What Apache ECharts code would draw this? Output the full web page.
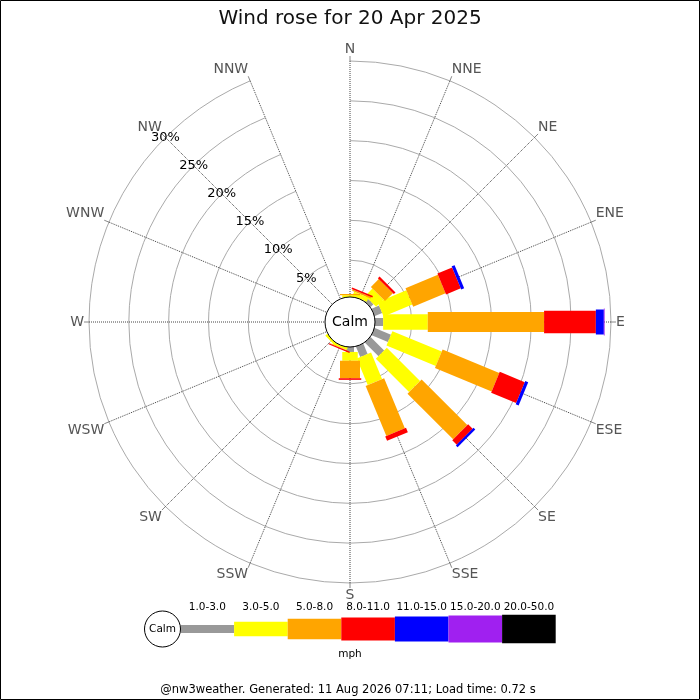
<!DOCTYPE html>
<html><head><meta charset="utf-8">
<script src="https://cdn.jsdelivr.net/npm/echarts@6/dist/echarts.min.js"></script>
<style>html,body{margin:0;padding:0;background:#fff}#c{width:700px;height:700px}</style>
</head><body><div id="c"></div>
<script>
// ---------- data ----------
const directions = ['N','NNE','NE','ENE','E','ESE','SE','SSE','S','SSW','SW','WSW','W','WNW','NW','NNW'];
const speedClasses = ['1.0-3.0','3.0-5.0','5.0-8.0','8.0-11.0','11.0-15.0','15.0-20.0','20.0-50.0'];
const speedUnit = 'mph';
// percentage of time, per direction, for each speed class
const s1to3   = [0.3, 0.4, 0.9, 1.4, 1.4, 2.6, 2.8, 1.8, 1.0, 0.3, 0.3, 0, 0, 0, 0, 0];
const s3to5   = [0.3, 0.55,1.3, 3.9, 5.6, 6.7, 5.9, 3.6, 1.1, 0.35,0.35,0, 0, 0, 0, 0];
const s5to8   = [0.15,0.2, 1.4, 4.4, 14.6,7.7, 8.1, 6.8, 2.2, 0.05,0, 0, 0, 0, 0, 0];
const s8to11  = [0,   0.2, 0.3, 2.0, 6.5, 3.4, 0.8, 0.6, 0.2, 0.15,0, 0, 0, 0, 0, 0];
const s11to15 = [0,   0,   0,   0.4, 1.0, 0.4, 0.3, 0,   0,   0,   0, 0, 0, 0, 0, 0];
const s15to20 = [0,   0,   0,   0,   0.1, 0,   0,   0,   0,   0,   0, 0, 0, 0, 0, 0];
const s20to50 = [0,   0,   0,   0,   0,   0,   0,   0,   0,   0,   0, 0, 0, 0, 0, 0];
const radiusTicks = [0, 5, 10, 15, 20, 25, 30];
const titleText = 'Wind rose for 20 Apr 2025';
const footerText = '@nw3weather. Generated: 11 Aug 2026 07:11; Load time: 0.72 s';

// ---------- style ----------
const classColors = ['#999999','#ffff00','#ffa500','#ff0000','#0000ff','#a020f0','#000000'];
const barWidths = [8, 15.5, 20, 22.5, 25, 27, 28.5];
const legendHeights = [8, 14.5, 20.5, 23, 25, 27, 28.5];
const CX = 350, CY = 322, R0 = 22, R1 = 261;
const FONT = '"DejaVu Sans", Verdana, sans-serif';

const classValues = [s1to3, s3to5, s5to8, s8to11, s11to15, s15to20, s20to50];
const rMax = radiusTicks[radiusTicks.length - 1];

function makeRender(k) {
  return function (params, api) {
    const dir = api.value(0), v0 = api.value(1), v1 = api.value(2);
    const a = api.coord([v0, dir]);
    const b = api.coord([v1, dir]);
    const o = api.coord([0, dir]);
    const f = api.coord([rMax, dir]);
    let ux = f[0] - o[0], uy = f[1] - o[1];
    const L = Math.hypot(ux, uy) || 1; ux /= L; uy /= L;
    const h = barWidths[k] / 2, nx = -uy * h, ny = ux * h;
    return {
      type: 'polygon',
      shape: { points: [[a[0]+nx, a[1]+ny], [b[0]+nx, b[1]+ny], [b[0]-nx, b[1]-ny], [a[0]-nx, a[1]-ny]] },
      style: { fill: classColors[k] }
    };
  };
}

const cum = directions.map(() => 0);
const series = classValues.map((vals, k) => {
  const data = [];
  vals.forEach((v, i) => { if (v > 0) data.push([i, cum[i], cum[i] + v]); cum[i] += v; });
  return {
    type: 'custom', name: speedClasses[k], coordinateSystem: 'polar', polarIndex: 0,
    encode: { angle: 0, radius: 2 }, data, renderItem: makeRender(k), z: 3, silent: true
  };
});

// legend / frame graphics
const graphics = [];
graphics.push({ type: 'rect', shape: { x: 0.5, y: 0.5, width: 699, height: 699 }, style: { fill: null, stroke: '#000', lineWidth: 1 }, z: 200 });
graphics.push({ type: 'circle', shape: { cx: CX, cy: CY, r: 25 }, style: { fill: '#fff', stroke: '#000', lineWidth: 1 }, z: 100 });
graphics.push({ type: 'text', x: CX, y: CY, style: { text: 'Calm', font: '14px ' + FONT, fill: '#000', align: 'center', verticalAlign: 'middle' }, z: 101 });
const LX0 = 180.5, LY = 629, SEG = 53.6;
speedClasses.forEach((lab, k) => {
  const x = LX0 + k * SEG;
  graphics.push({ type: 'rect', shape: { x: x, y: LY - legendHeights[k] / 2, width: SEG, height: legendHeights[k] }, style: { fill: classColors[k] }, z: 100 });
  graphics.push({ type: 'text', x: x + SEG / 2, y: 607, style: { text: lab, font: '10.5px ' + FONT, fill: '#000', align: 'center', verticalAlign: 'middle' }, z: 101 });
});
graphics.push({ type: 'circle', shape: { cx: 162.5, cy: LY, r: 18 }, style: { fill: '#fff', stroke: '#000', lineWidth: 1 }, z: 102 });
graphics.push({ type: 'text', x: 162.5, y: LY, style: { text: 'Calm', font: '10.5px ' + FONT, fill: '#000', align: 'center', verticalAlign: 'middle' }, z: 103 });
graphics.push({ type: 'text', x: 350, y: 654, style: { text: speedUnit, font: '10.5px ' + FONT, fill: '#000', align: 'center', verticalAlign: 'middle' }, z: 101 });
graphics.push({ type: 'text', x: 348, y: 690, style: { text: footerText, font: '11.5px ' + FONT, fill: '#000', align: 'center', verticalAlign: 'middle' }, z: 101 });

const chart = echarts.init(document.getElementById('c'), null, { renderer: 'canvas' });
chart.setOption({
  backgroundColor: '#fff',
  animation: false,
  title: { text: titleText, left: 'center', top: 4, textStyle: { fontSize: 20, fontWeight: 'normal', fontFamily: FONT, color: '#111' } },
  polar: [
    { center: [CX, CY], radius: [R0, R1] },
    { center: [CX, CY], radius: [R0, R1] }
  ],
  angleAxis: [
    { polarIndex: 0, type: 'category', data: directions, boundaryGap: false, startAngle: 90, clockwise: true,
      axisLine: { show: false },
      axisTick: { show: true, length: 5, lineStyle: { color: '#888' } },
      axisLabel: { show: true, color: '#555', fontSize: 14, fontFamily: FONT, margin: 5 },
      splitLine: { show: true, lineStyle: { color: '#444', type: 'dotted', width: 1 } },
      z: 1 },
    { polarIndex: 1, type: 'category', data: directions, boundaryGap: false, startAngle: 135, clockwise: true, show: false }
  ],
  radiusAxis: [
    { polarIndex: 0, type: 'value', min: radiusTicks[0], max: rMax, interval: 5,
      axisLine: { show: false }, axisTick: { show: false }, axisLabel: { show: false },
      splitLine: { show: true, lineStyle: { color: '#aaa', width: 1 } }, z: 1 },
    { polarIndex: 1, type: 'value', min: radiusTicks[0], max: rMax, interval: 5,
      axisLine: { show: false }, axisTick: { show: false }, splitLine: { show: false },
      axisLabel: { show: true, margin: 0, align: 'center', verticalAlign: 'middle', fontSize: 13, fontFamily: FONT, color: '#000',
        formatter: v => (radiusTicks.indexOf(v) > 0 ? v + '%' : '') },
      z: 50 }
  ],
  series,
  graphic: { elements: graphics }
});
</script>
</body></html>
